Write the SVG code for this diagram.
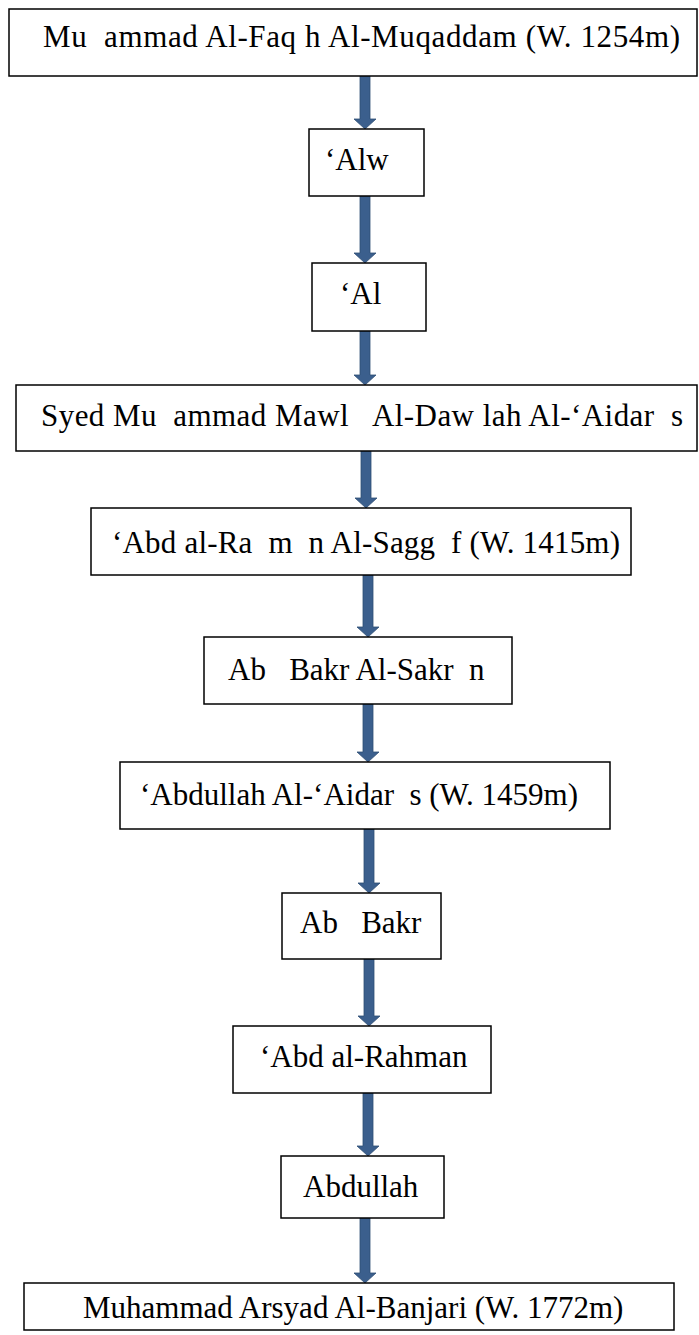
<svg xmlns="http://www.w3.org/2000/svg" width="699" height="1335" viewBox="0 0 699 1335">
<style>
.box{fill:#fff;stroke:#000;stroke-width:1.5}
text{font-family:'Liberation Serif','Times New Roman',serif;font-size:31px;fill:#000}
.arr{fill:#3B5F8D;stroke:#2F4E74;stroke-width:0.8}
</style>
<rect width="699" height="1335" fill="#fff"/>
<g id="connectors">
<path class="arr" d="M360,76 H370 V119 H376 L365,129 L354,119 H360 Z"/>
<path class="arr" d="M360,196 H370 V253 H376 L365,263 L354,253 H360 Z"/>
<path class="arr" d="M360,331 H370 V375 H376 L365,385 L354,375 H360 Z"/>
<path class="arr" d="M361,451 H371 V498 H377 L366,508 L355,498 H361 Z"/>
<path class="arr" d="M363,575 H373 V627 H379 L368,637 L357,627 H363 Z"/>
<path class="arr" d="M363,704 H373 V752 H379 L368,762 L357,752 H363 Z"/>
<path class="arr" d="M364,829 H374 V883 H380 L369,893 L358,883 H364 Z"/>
<path class="arr" d="M364,959 H374 V1016 H380 L369,1026 L358,1016 H364 Z"/>
<path class="arr" d="M363,1093 H373 V1146 H379 L368,1156 L357,1146 H363 Z"/>
<path class="arr" d="M360,1218 H370 V1273 H376 L365,1283 L354,1273 H360 Z"/>
</g>
<g id="n1"><rect class="box" x="9" y="9" width="688" height="67"/><text x="43" y="47" textLength="637" lengthAdjust="spacing" xml:space="preserve">Mu  ammad Al-Faq h Al-Muqaddam (W. 1254m)</text></g>
<g id="n2"><rect class="box" x="309" y="129" width="115" height="67"/><text x="325" y="170" xml:space="preserve">‘Alw</text></g>
<g id="n3"><rect class="box" x="312" y="263" width="114" height="68"/><text x="340" y="304" xml:space="preserve">‘Al</text></g>
<g id="n4"><rect class="box" x="16" y="385" width="681" height="66"/><text x="41" y="426" textLength="642" lengthAdjust="spacing" xml:space="preserve">Syed Mu  ammad Mawl   Al-Daw lah Al-‘Aidar  s</text></g>
<g id="n5"><rect class="box" x="91" y="508" width="540" height="67"/><text x="112" y="553" textLength="508" lengthAdjust="spacing" xml:space="preserve">‘Abd al-Ra  m  n Al-Sagg  f (W. 1415m)</text></g>
<g id="n6"><rect class="box" x="204" y="637" width="308" height="67"/><text x="228" y="680" xml:space="preserve">Ab   Bakr Al-Sakr  n</text></g>
<g id="n7"><rect class="box" x="120" y="762" width="490" height="67"/><text x="140" y="805" xml:space="preserve">‘Abdullah Al-‘Aidar  s (W. 1459m)</text></g>
<g id="n8"><rect class="box" x="282" y="893" width="159" height="66"/><text x="300" y="933" xml:space="preserve">Ab   Bakr</text></g>
<g id="n9"><rect class="box" x="233" y="1026" width="258" height="67"/><text x="260" y="1067" xml:space="preserve">‘Abd al-Rahman</text></g>
<g id="n10"><rect class="box" x="281" y="1156" width="163" height="62"/><text x="303" y="1197" xml:space="preserve">Abdullah</text></g>
<g id="n11"><rect class="box" x="24" y="1283" width="650" height="47"/><text x="83" y="1318" xml:space="preserve">Muhammad Arsyad Al-Banjari (W. 1772m)</text></g>
</svg>
